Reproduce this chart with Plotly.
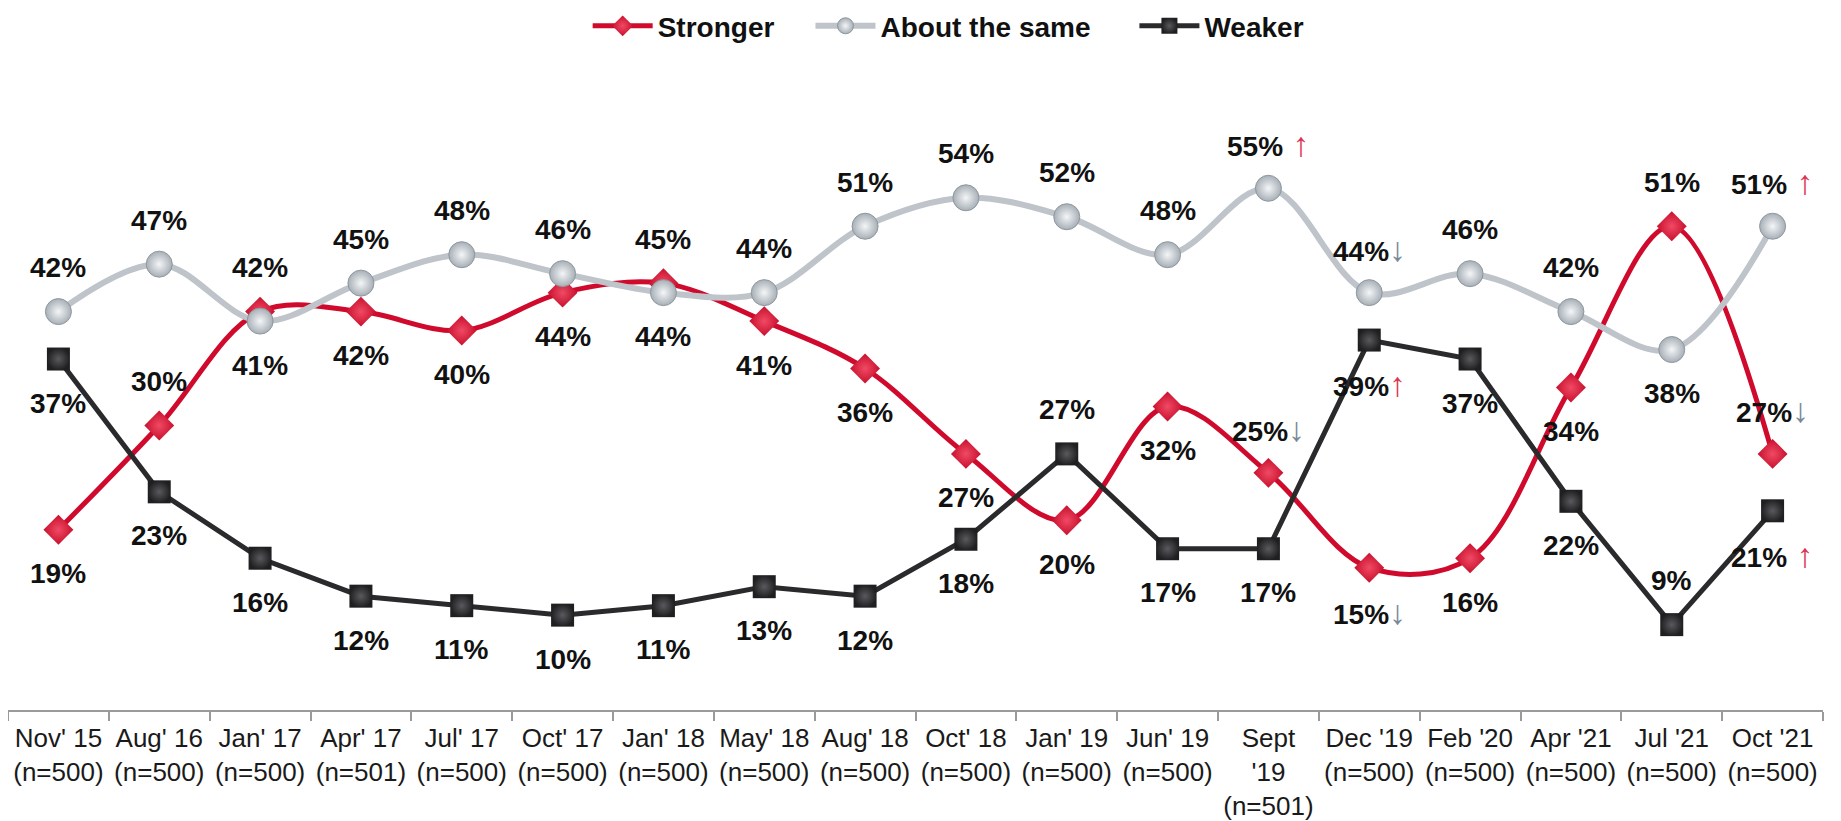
import plotly.graph_objects as go

categories = ["Nov' 15<br>(n=500)", "Aug' 16<br>(n=500)", "Jan' 17<br>(n=500)", "Apr' 17<br>(n=501)",
              "Jul' 17<br>(n=500)", "Oct' 17<br>(n=500)", "Jan' 18<br>(n=500)", "May' 18<br>(n=500)",
              "Aug' 18<br>(n=500)", "Oct' 18<br>(n=500)", "Jan' 19<br>(n=500)", "Jun' 19<br>(n=500)",
              "Sept<br>'19<br>(n=501)", "Dec '19<br>(n=500)", "Feb '20<br>(n=500)", "Apr '21<br>(n=500)",
              "Jul '21<br>(n=500)", "Oct '21<br>(n=500)"]

stronger = [19, 30, 42, 42, 40, 44, 45, 41, 36, 27, 20, 32, 25, 15, 16, 34, 51, 27]
same = [42, 47, 41, 45, 48, 46, 44, 44, 51, 54, 52, 48, 55, 44, 46, 42, 38, 51]
weaker = [37, 23, 16, 12, 11, 10, 11, 13, 12, 18, 27, 17, 17, 39, 37, 22, 9, 21]

# label placement: +1 above, -1 below
stronger_pos = [-1, 1, 1, -1, -1, -1, 1, -1, -1, -1, -1, -1, 1, -1, -1, -1, 1, 1]
same_pos = [1, 1, -1, 1, 1, 1, -1, 1, 1, 1, 1, 1, 1, 1, 1, 1, -1, 1]
weaker_pos = [-1, -1, -1, -1, -1, -1, -1, -1, -1, -1, 1, -1, -1, -1, -1, -1, 1, -1]

# significance arrows: "up" (spaced), "up_tight", "down" or ""
stronger_sig = [""] * 12 + ["down", "down", "", "", "", "down"]
same_sig = [""] * 12 + ["up", "down", "", "", "", "up"]
weaker_sig = [""] * 13 + ["up_tight", "", "", "", "up"]

RED = "#CF0A2C"
GRAY = "#BEC4C9"
BLACK = "#2A2A2D"
ARROW_UP = "#DC3552"
ARROW_DN = "#77889A"
FONT = "Liberation Sans, Arial, sans-serif"
NB = "\u00a0"

x_idx = list(range(len(categories)))

fig = go.Figure()
fig.add_trace(go.Scatter(
    x=x_idx, y=stronger, name="<b>Stronger</b>" + NB * 4, mode="lines+markers",
    line=dict(color=RED, width=5, shape="spline", smoothing=1),
    marker=dict(symbol="diamond", size=23, color="#C8102E",
                gradient=dict(type="radial", color="#F04A64"),
                line=dict(width=0)),
))
fig.add_trace(go.Scatter(
    x=x_idx, y=same, name="<b>About the same</b>" + NB * 5, mode="lines+markers",
    line=dict(color=GRAY, width=6, shape="spline", smoothing=1),
    marker=dict(symbol="circle", size=26, color="#A7AFB6",
                gradient=dict(type="radial", color="#F4F6F8"),
                line=dict(width=1, color="#8E979F")),
))
fig.add_trace(go.Scatter(
    x=x_idx, y=weaker, name="<b>Weaker</b>", mode="lines+markers",
    line=dict(color=BLACK, width=5),
    marker=dict(symbol="square", size=23, color="#1F1F21",
                gradient=dict(type="radial", color="#5A5A5E"),
                line=dict(width=0)),
))

annotations = []


def add_labels(vals, pos, sig):
    for i, (v, p, s) in enumerate(zip(vals, pos, sig)):
        txt = f"<b>{v}%</b>"
        if s == "up":
            txt += f"<span style='color:{ARROW_UP};font-size:34px'>{NB}↑</span>"
        elif s == "up_tight":
            txt += f"<span style='color:{ARROW_UP};font-size:34px'>↑</span>"
        elif s == "down":
            txt += f"<span style='color:{ARROW_DN};font-size:34px'>↓</span>"
        annotations.append(dict(
            x=i, y=v, xref="x", yref="y", text=txt, showarrow=False,
            yshift=44 * p, xanchor="center", yanchor="middle",
            font=dict(family=FONT, size=28, color="#111111"),
        ))


add_labels(stronger, stronger_pos, stronger_sig)
add_labels(same, same_pos, same_sig)
add_labels(weaker, weaker_pos, weaker_sig)

# page body adds an 8px offset, so the figure is 8px smaller than the window
fig.update_layout(
    width=1833, height=813,
    margin=dict(l=0, r=18, t=38, b=111, autoexpand=False),
    paper_bgcolor="white", plot_bgcolor="white",
    showlegend=True,
    legend=dict(orientation="h", x=0.518, xanchor="center", y=1.03, yanchor="middle",
                font=dict(family=FONT, size=28, color="#111111"),
                itemwidth=60, bgcolor="rgba(0,0,0,0)"),
    annotations=annotations,
    xaxis=dict(
        tickmode="array", tickvals=x_idx, ticktext=categories,
        range=[-0.5, len(categories) - 0.5],
        showline=True, linecolor="#9A9A9A", linewidth=2,
        ticks="", showgrid=False, zeroline=False, automargin=False,
        ticklabelstandoff=4,
        tickfont=dict(family=FONT, size=26, color="#1A1A1A"),
    ),
    yaxis=dict(range=[0, 70], visible=False, showgrid=False, zeroline=False),
)

# boundary tick marks on the category axis
fig.update_xaxes(minor=dict(tickmode="array", tickvals=[i - 0.5 for i in range(len(categories) + 1)],
                            ticks="outside", ticklen=9, tickcolor="#9A9A9A", tickwidth=2))

fig.write_html("out.html")
